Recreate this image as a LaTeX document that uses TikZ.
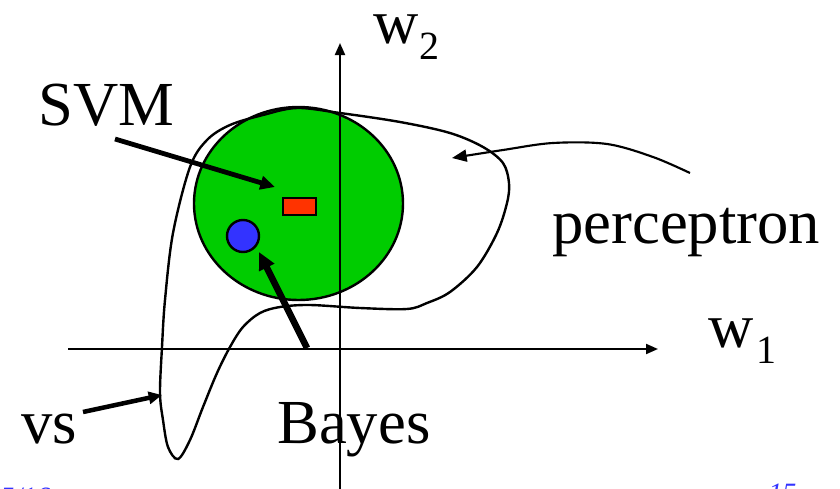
\documentclass[tikz,border=0pt]{standalone}
\usepackage{fontspec}
\setmainfont{Liberation Serif}
\usetikzlibrary{arrows.meta,shapes.geometric}
\definecolor{svmgreen}{RGB}{0,204,0}
\definecolor{svmred}{RGB}{255,51,0}
\definecolor{bayesblue}{RGB}{51,51,255}
\definecolor{footblue}{RGB}{51,51,255}
\begin{document}
\begin{tikzpicture}[x=0.75pt,y=-0.75pt,
  lbl/.style={inner sep=0pt, anchor=base west, font=\fontsize{47}{56}\selectfont},
  foot/.style={inner sep=0pt, anchor=base west, text=footblue, font=\fontsize{21}{25}\selectfont\itshape},
  axisline/.style={line width=1.5pt, -{Triangle[length=9pt,width=7.5pt]}},
  thickarrow/.style={line width=3.6pt, -{Triangle[length=11pt,width=10pt]}},
  thinarrow/.style={line width=1.6pt, -{Triangle[length=11pt,width=9pt]}},
  contour/.style={line width=1.8pt},
  outline/.style={draw=black, line width=1.8pt, inner sep=0pt}
]
\useasboundingbox (0,0) rectangle (840,489);
% green region
\node[outline, ellipse, fill=svmgreen, minimum width=156.75pt, minimum height=144.75pt] (region) at (298.5,203.5) {};
% version-space contour
\draw[contour] plot[smooth cycle, tension=0.55] coordinates {
  (297,108) (340,113) (400,122) (450,133) (483,147) (503,163) (509,183)
  (507,203) (497,233) (477,267) (450,292) (427,303) (407,309) (360,308)
  (310,305) (280,307) (260,313) (243,327) (230,347) (217,373) (203,407)
  (190,440) (178,459) (168,447) (163,420) (160,393) (162,347) (165,300)
  (173,233) (190,167) (207,140) (230,125) (263,115)};
% points
\node[outline, rectangle, fill=svmred, minimum width=24.75pt, minimum height=12.75pt] (svmpt) at (299.5,206.5) {};
\node[outline, circle, fill=bayesblue, minimum size=24pt] (bayespt) at (243,236) {};
% axes
\coordinate (o1) at (68,349);
\coordinate (x1) at (658,349);
\coordinate (o2) at (340,500);
\coordinate (y2) at (340,43);
\draw[axisline] (o1) -- (x1);
\draw[axisline] (o2) -- (y2);
% labels
\node[lbl] (svm) at (38,125) {SVM};
\node[lbl] (w2) at (373,43) {w\kern1pt\raisebox{-12.5pt}{\fontsize{30}{36}\selectfont 2}};
\node[lbl] (w1) at (708,347) {w\kern2pt\raisebox{-12.5pt}{\fontsize{30}{36}\selectfont 1}};
\node[lbl] (perc) at (552,243) {perceptron};
\node[lbl] (vs) at (21,443) {vs};
\node[lbl] (bayes) at (277,443) {Bayes};
\node[foot] (f1) at (0,506) {5/16};
\node[foot] (f2) at (768,502) {15};
% arrows
\coordinate (svmfrom) at (115,139);
\coordinate (svmto) at (275,187);
\draw[thickarrow] (svmfrom) -- (svmto);
\coordinate (bayesfrom) at (307,348);
\coordinate (bayesto) at (259,252);
\draw[line width=5pt, -{Triangle[length=13pt,width=12pt]}] (bayesfrom) -- (bayesto);
\coordinate (vsfrom) at (83,412);
\coordinate (vsto) at (162,395);
\draw[line width=3.4pt, -{Triangle[length=10pt,width=9pt]}] (vsfrom) -- (vsto);
\draw[thinarrow] plot[smooth, tension=0.55] coordinates {(690,173) (653,157) (607,144) (553,143) (503,150) (452,158)};
\end{tikzpicture}
\end{document}
